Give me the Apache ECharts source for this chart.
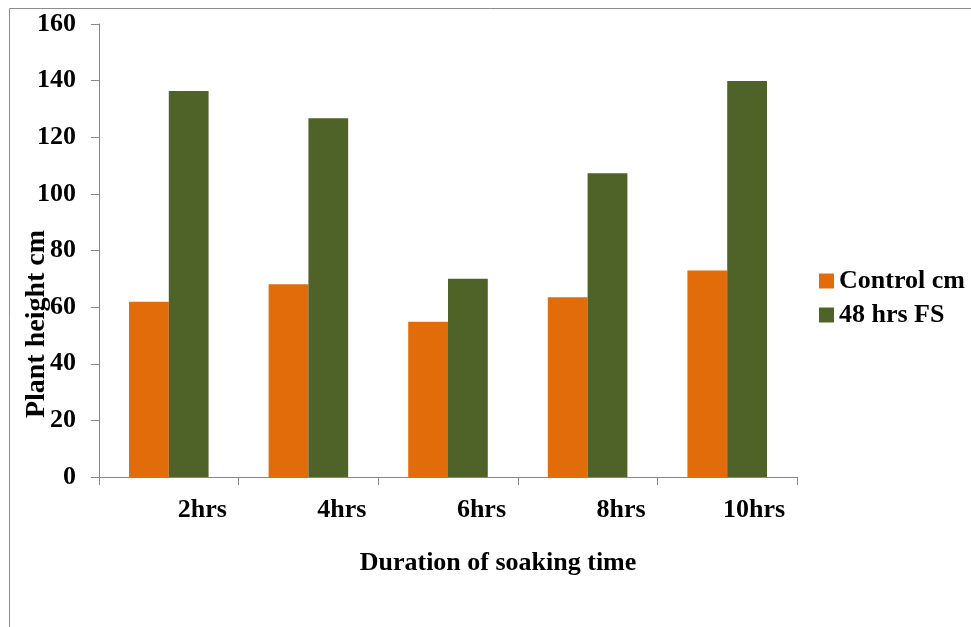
<!DOCTYPE html>
<html>
<head>
<meta charset="utf-8">
<script src="https://cdn.jsdelivr.net/npm/echarts@6/dist/echarts.min.js"></script>
<style>
html,body{margin:0;padding:0;background:#fff;}
#c{width:971px;height:627px;}
</style>
</head>
<body>
<div id="c"></div>
<script>
const categories = ['2hrs', '4hrs', '6hrs', '8hrs', '10hrs'];
const controlCm = [61.9, 68.1, 54.8, 63.5, 72.9];
const fs48 = [136.3, 126.7, 70.0, 107.3, 139.9];
const seriesNames = ['Control cm', '48 hrs FS'];
const yTicks = { min: 0, max: 160, interval: 20 };

const font = '"Liberation Serif", "Times New Roman", serif';
const chart = echarts.init(document.getElementById('c'), null, { renderer: 'canvas' });
chart.setOption({
  animation: false,
  backgroundColor: '#fff',
  grid: { left: 99, top: 24, right: 174, bottom: 150, containLabel: false },
  legend: {
    orient: 'vertical',
    left: 814,
    top: 263,
    itemWidth: 15,
    itemHeight: 15,
    itemGap: 8,
    icon: 'rect',
    textStyle: { fontFamily: font, fontWeight: 'bold', fontSize: 26, color: '#000' },
    data: seriesNames
  },
  xAxis: {
    type: 'category',
    data: categories,
    name: 'Duration of soaking time',
    nameLocation: 'middle',
    nameGap: 73,
    nameTextStyle: { fontFamily: font, fontWeight: 'bold', fontSize: 26, color: '#000',
                     padding: [0, 0, 0, 100] },
    axisLine: { lineStyle: { color: '#868686', width: 1 } },
    axisTick: { show: true, length: 8, lineStyle: { color: '#868686' } },
    axisLabel: {
      margin: 20,
      fontFamily: font, fontWeight: 'bold', fontSize: 26, color: '#000',
      formatter: v => '{r|' + v + '}',
      rich: { r: { width: 116, align: 'right', fontFamily: font, fontWeight: 'bold', fontSize: 26, color: '#000' } }
    },
    splitLine: { show: false }
  },
  yAxis: {
    type: 'value',
    min: yTicks.min, max: yTicks.max, interval: yTicks.interval,
    axisLine: { show: true, lineStyle: { color: '#868686', width: 1 } },
    axisTick: { show: true, length: 8, lineStyle: { color: '#868686' } },
    axisLabel: { margin: 23, fontFamily: font, fontWeight: 'bold', fontSize: 26, color: '#000' },
    splitLine: { show: false }
  },
  series: [
    { name: seriesNames[0], type: 'bar', data: controlCm, barGap: '0%', barCategoryGap: '43%',
      itemStyle: { color: '#E36C0A' } },
    { name: seriesNames[1], type: 'bar', data: fs48, barGap: '0%', barCategoryGap: '43%',
      itemStyle: { color: '#4F6228' } }
  ],
  graphic: [
    { type: 'rect', shape: { x: 9.5, y: 8.5, width: 1100, height: 800 },
      style: { fill: 'none', stroke: '#8c8c8c', lineWidth: 1 }, silent: true, z: -10 },
    { type: 'text', x: 37, y: 324, rotation: Math.PI / 2,
      style: { text: 'Plant height cm', fontFamily: font, fontWeight: 'bold', fontSize: 28,
               fill: '#000', align: 'center', verticalAlign: 'middle' } }
  ]
});
</script>
</body>
</html>
